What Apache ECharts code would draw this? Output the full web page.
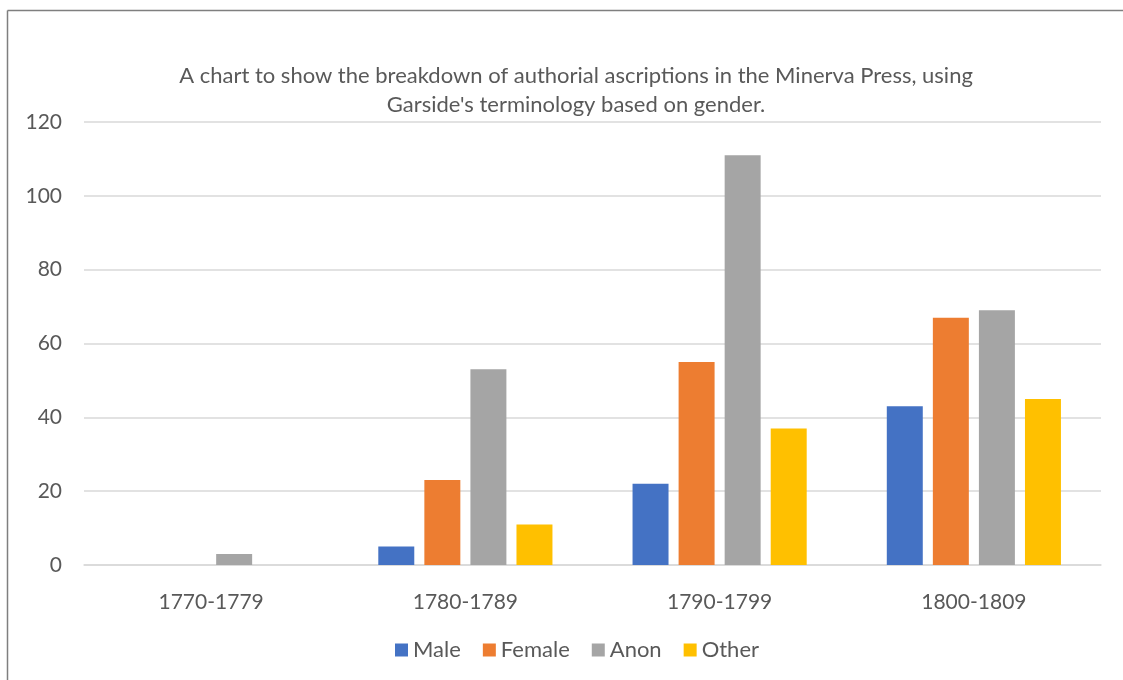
<!DOCTYPE html>
<html>
<head>
<meta charset="utf-8">
<script src="https://cdn.jsdelivr.net/npm/echarts@6/dist/echarts.min.js"></script>
<style>
  html, body { margin: 0; padding: 0; background: #fff; }
  #chart { width: 1123px; height: 680px; }
</style>
</head>
<body>
<div id="chart"></div>
<script>
// decades on the x axis
var categories = ['1770-1779', '1780-1789', '1790-1799', '1800-1809'];
var male = [0, 5, 22, 43];
var female = [0, 23, 55, 67];
var anon = [3, 53, 111, 69];
var other = [0, 11, 37, 45];
var yTicks = { min: 0, max: 120, step: 20 };

var font = 'Lato, "Open Sans", sans-serif';
var textGrey = '#595959';

var chart = echarts.init(document.getElementById('chart'));

function bar(name, data, color) {
	return {
		name: name,
		type: 'bar',
		data: data,
		barGap: '28%',
		barCategoryGap: '31.5%',
		itemStyle: { color: color }
	};
}

var frameStyle = { stroke: '#7f7f7f', lineWidth: 1.5 };

var option = {
	animation: false,
	textStyle: { fontFamily: font },
	title: {
		text: 'A chart to show the breakdown of authorial ascriptions in the Minerva Press, using\nGarside\'s terminology based on gender.',
		left: 571,
		top: 56,
		textAlign: 'center',
		textStyle: {
			color: textGrey,
			fontSize: 22,
			fontWeight: 'normal',
			lineHeight: 29,
			fontFamily: font
		}
	},
	// chart area frame, only top and left edges are in view
	graphic: [{
		type: 'line',
		shape: { x1: 7.5, y1: 10.5, x2: 1123, y2: 10.5 },
		style: frameStyle,
		silent: true
	}, {
		type: 'line',
		shape: { x1: 7.5, y1: 10.5, x2: 7.5, y2: 680 },
		style: frameStyle,
		silent: true
	}],
	legend: {
		bottom: 14,
		left: 390,
		itemWidth: 13,
		itemHeight: 13,
		itemGap: 22,
		icon: 'rect',
		textStyle: { color: textGrey, fontSize: 22, fontFamily: font },
		data: ['Male', 'Female', 'Anon', 'Other']
	},
	grid: {
		left: 84,
		right: 22,
		top: 122,
		bottom: 115
	},
	xAxis: {
		type: 'category',
		data: categories,
		axisTick: { show: false },
		axisLine: { lineStyle: { color: '#d9d9d9', width: 1.5 } },
		axisLabel: { color: textGrey, fontSize: 21, margin: 27, fontFamily: font }
	},
	yAxis: {
		type: 'value',
		min: yTicks.min,
		max: yTicks.max,
		interval: yTicks.step,
		axisLine: { show: false },
		axisTick: { show: false },
		axisLabel: { color: textGrey, fontSize: 21, margin: 22, fontFamily: font },
		splitLine: { lineStyle: { color: '#d9d9d9', width: 1.5 } }
	},
	series: [
		bar('Male', male, '#4472c4'),
		bar('Female', female, '#ed7d31'),
		bar('Anon', anon, '#a5a5a5'),
		bar('Other', other, '#ffc000')
	]
};

chart.setOption(option);
</script>
</body>
</html>
